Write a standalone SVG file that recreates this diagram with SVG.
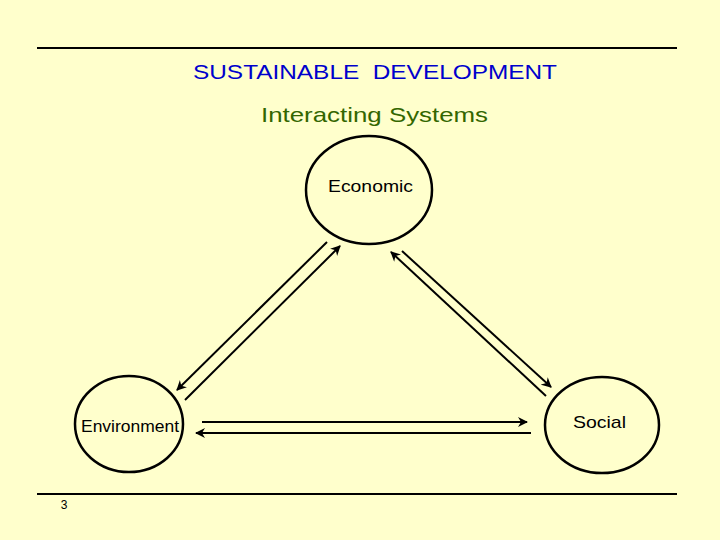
<svg xmlns="http://www.w3.org/2000/svg" width="720" height="540" viewBox="0 0 720 540">
<style>
.n{fill:none;stroke:#000;stroke-width:2.5}
.c line{stroke:#000;stroke-width:2;marker-end:url(#a)}
text{font-family:"Liberation Sans",Arial,sans-serif}
</style>
<defs><marker id="a" viewBox="0 0 10 10" refX="9" refY="5" markerWidth="12" markerHeight="10" orient="auto" markerUnits="userSpaceOnUse"><path d="M0,0L10,5L0,10L3,5z" fill="#000"/></marker></defs>
<rect width="720" height="540" fill="#FFFFCC"/>
<line x1="37" y1="48" x2="677" y2="48" stroke="#000" stroke-width="2"/>
<line x1="37" y1="494" x2="677" y2="494" stroke="#000" stroke-width="2"/>
<text x="193" y="79" font-size="21" fill="#0000CC" xml:space="preserve" textLength="364" lengthAdjust="spacingAndGlyphs">SUSTAINABLE  DEVELOPMENT</text>
<text x="261" y="122" font-size="21" fill="#336600" textLength="227" lengthAdjust="spacingAndGlyphs">Interacting Systems</text>
<text x="64" y="509" text-anchor="middle" font-size="12" fill="#000">3</text>
<g id="economic"><ellipse class="n" cx="369" cy="190" rx="63" ry="54"/><text x="328" y="192" font-size="17" textLength="85" lengthAdjust="spacingAndGlyphs">Economic</text></g>
<g id="environment"><ellipse class="n" cx="129" cy="424" rx="54" ry="48"/><text x="81" y="432" font-size="16" textLength="98" lengthAdjust="spacingAndGlyphs">Environment</text></g>
<g id="social"><ellipse class="n" cx="602" cy="425" rx="57" ry="48"/><text x="573" y="428" font-size="17" textLength="53" lengthAdjust="spacingAndGlyphs">Social</text></g>
<g class="c">
<line x1="327" y1="242" x2="177" y2="390"/>
<line x1="185" y1="400" x2="340" y2="246"/>
<line x1="546" y1="396" x2="391" y2="252"/>
<line x1="402" y1="251" x2="551" y2="387"/>
<line x1="202" y1="422" x2="527" y2="422"/>
<line x1="531" y1="433" x2="196" y2="433"/>
</g>
</svg>
